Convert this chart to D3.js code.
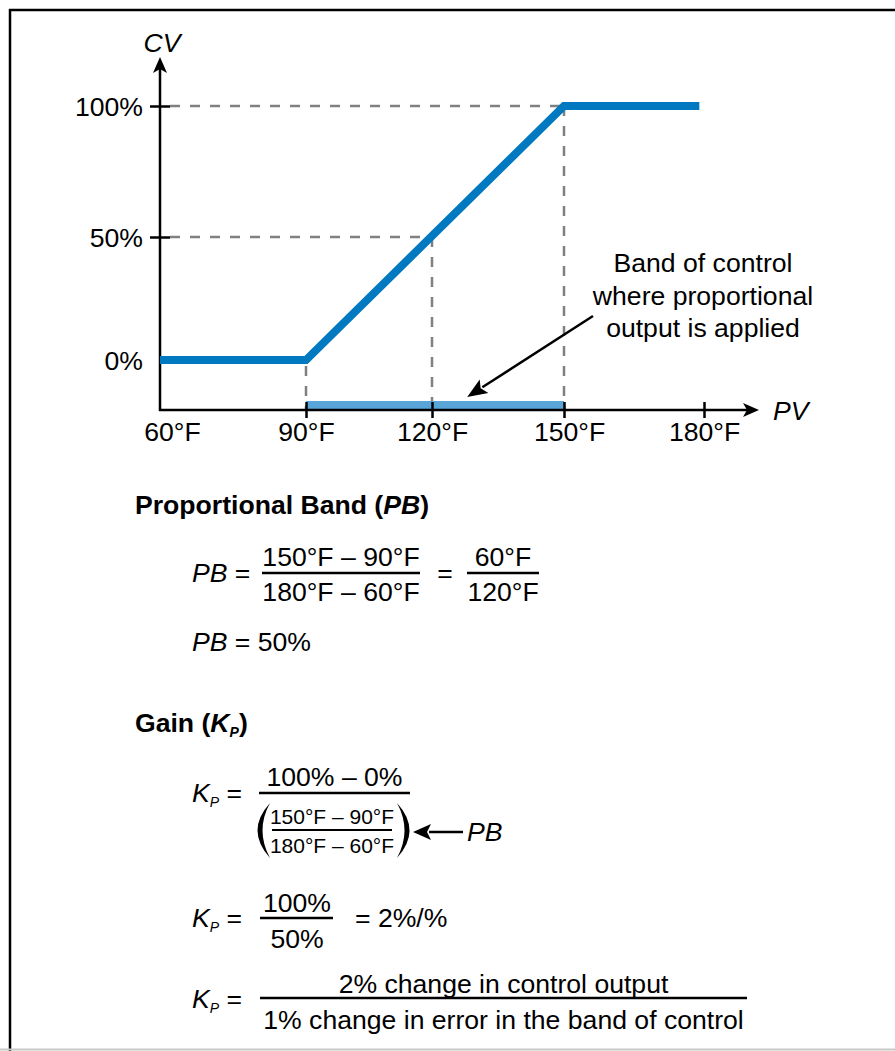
<!DOCTYPE html>
<html>
<head>
<meta charset="utf-8">
<script src="https://cdn.jsdelivr.net/npm/d3@7"></script>
<style>
  body { margin: 0; background: #fff; }
  svg { display: block; font-family: "Liberation Sans", Arial, sans-serif; }
</style>
</head>
<body>
<div id="chart"></div>
<script>
const width = 895, height = 1051;

// chart data
const pvTicks = [60, 90, 120, 150, 180];
const cvTicks = [0, 50, 100];
const curvePV = [60, 90, 150, 179];
const curveCV = [0, 0, 100, 100];
const bandOfControl = [90, 150];
const guidePV = [90, 120, 150];
const guideCV = [0, 50, 100];
const noteLines = ["Band of control", "where proportional", "output is applied"];
const notePV = 128; // where the note arrow points

// formula text
const pbFrac = ["150°F – 90°F", "180°F – 60°F"];
const pbFrac2 = ["60°F", "120°F"];
const kpFrac = ["100% – 0%"];
const kpFrac2 = ["100%", "50%"];
const kpFrac3 = ["2% change in control output", "1% change in error in the band of control"];

const blue = "#0079c1", lightBlue = "#5aa5d8", grey = "#808080";
const fs = 26.6;

const svg = d3
  .select("#chart")
  .append("svg")
  .attr("width", width)
  .attr("height", height);

// frame
svg.append("line").attr("x1", 10).attr("x2", 10).attr("y1", 9).attr("y2", height)
  .attr("stroke", "#000").attr("stroke-width", 2.5);
svg.append("line").attr("x1", 9).attr("x2", width).attr("y1", 10).attr("y2", 10)
  .attr("stroke", "#000").attr("stroke-width", 2.5);
svg.append("line").attr("x1", 0).attr("x2", width).attr("y1", height - 1.5).attr("y2", height - 1.5)
  .attr("stroke", "#c8c8c8").attr("stroke-width", 2);

// scales (drawing isn't evenly spaced, so use piecewise ranges)
let x = d3.scaleLinear().domain(pvTicks).range([160, 306, 432, 564, 704]);
let y = d3.scaleLinear().domain(cvTicks).range([360, 237, 106]);
const axisY = 410;

// dashed guides
const guides = svg.append("g")
  .attr("stroke", grey)
  .attr("stroke-width", 2.5)
  .attr("stroke-dasharray", "10,10")
  .attr("fill", "none");
guidePV.forEach((pv, i) => {
  const cv = guideCV[i];
  if (cv > 0) {
    guides.append("line")
      .attr("x1", x(60) + 10).attr("x2", x(pv))
      .attr("y1", y(cv)).attr("y2", y(cv));
  }
  guides.append("line")
    .attr("x1", x(pv)).attr("x2", x(pv))
    .attr("y1", y(cv) + (cv == 0 ? 6 : 0)).attr("y2", axisY);
});

// band of control
svg.append("rect")
  .attr("x", x(bandOfControl[0]))
  .attr("width", x(bandOfControl[1]) - x(bandOfControl[0]))
  .attr("y", axisY - 9)
  .attr("height", 8)
  .attr("fill", lightBlue);

// X axis
const xAxis = svg.append("g")
  .attr("transform", `translate(0,${axisY})`)
  .call(d3.axisBottom(x).tickValues(pvTicks).tickFormat((d) => d + "°F").tickSizeOuter(0));
xAxis.select(".domain").remove();
xAxis.selectAll(".tick line")
  .attr("y1", -8).attr("y2", 8)
  .attr("stroke", "#000").attr("stroke-width", 2.5)
  .attr("display", (d) => (d === 60 ? "none" : null));
xAxis.selectAll(".tick text")
  .attr("y", 31).attr("dy", 0)
  .attr("dx", (d) => (d === 60 ? 12 : d === 150 ? 5 : 0))
  .attr("font-size", fs)
  .attr("font-family", null)
  .attr("fill", "#000");

// Y axis
const yAxis = svg.append("g")
  .attr("transform", `translate(${x(60)},0)`)
  .call(d3.axisLeft(y).tickValues(cvTicks).tickFormat((d) => d + "%").tickSizeOuter(0));
yAxis.select(".domain").remove();
yAxis.selectAll(".tick line")
  .attr("x1", -10).attr("x2", 10)
  .attr("stroke", "#000").attr("stroke-width", 2.5)
  .attr("display", (d) => (d === 0 ? "none" : null));
yAxis.selectAll(".tick text")
  .attr("x", -17).attr("dy", "0.35em")
  .attr("font-size", fs)
  .attr("font-family", null)
  .attr("fill", "#000");

// axis lines with arrows
svg.append("line")
  .attr("x1", x(60)).attr("x2", x(60)).attr("y1", axisY + 1).attr("y2", 66)
  .attr("stroke", "#000").attr("stroke-width", 2.5);
svg.append("path")
  .attr("d", `M${x(60)},57 L${x(60) + 7},73 L${x(60)},69 L${x(60) - 7},73 Z`)
  .attr("fill", "#000");
svg.append("line")
  .attr("x1", x(60) - 1).attr("x2", 750).attr("y1", axisY).attr("y2", axisY)
  .attr("stroke", "#000").attr("stroke-width", 2.5);
svg.append("path")
  .attr("d", `M759,${axisY} L743,${axisY - 7} L747,${axisY} L743,${axisY + 7} Z`)
  .attr("fill", "#000");

svg.append("text").text("CV")
  .attr("x", x(60) + 2).attr("y", 52)
  .attr("text-anchor", "middle")
  .attr("font-style", "italic").attr("font-size", fs);
svg.append("text").text("PV")
  .attr("x", 773).attr("y", axisY + 10)
  .attr("font-style", "italic").attr("font-size", fs);

// CV response
const curve = curvePV.map((pv, i) => ({ pv, cv: curveCV[i] }));
svg.append("path")
  .datum(curve)
  .attr("fill", "none")
  .attr("stroke", blue)
  .attr("stroke-width", 8)
  .attr("stroke-linejoin", "miter")
  .attr("d", d3.line().x((d) => x(d.pv)).y((d) => y(d.cv)));

// note + arrow
const note = svg.append("text")
  .attr("text-anchor", "middle")
  .attr("font-size", fs);
noteLines.forEach((t, i) => {
  note.append("tspan").attr("x", 703).attr("y", 272 + i * 32.5).text(t);
});

function arrow(x1, y1, x2, y2, len, half) {
  const dx = x2 - x1, dy = y2 - y1, L = Math.hypot(dx, dy);
  const ux = dx / L, uy = dy / L;
  const bx = x2 - ux * len, by = y2 - uy * len;
  svg.append("line")
    .attr("x1", x1).attr("y1", y1)
    .attr("x2", x2 - ux * (len - 2)).attr("y2", y2 - uy * (len - 2))
    .attr("stroke", "#000").attr("stroke-width", 2.5);
  svg.append("path")
    .attr("d", `M${x2},${y2} L${bx - uy * half},${by + ux * half} L${bx + ux * 4},${by + uy * 4} L${bx + uy * half},${by - ux * half} Z`)
    .attr("fill", "#000");
}
arrow(593, 316, x(notePV), axisY - 13, 20, 8);

// ---- formulas ----
function kp(sel) {
  sel.append("tspan").text("K").attr("font-style", "italic");
  sel.append("tspan").text("P").attr("font-style", "italic")
    .attr("font-size", 14).attr("dy", 5);
}

function frac(cx, lineY, x1, x2, num, den, size, gapUp, gapDown) {
  svg.append("text").text(num)
    .attr("x", cx).attr("y", lineY - gapUp)
    .attr("text-anchor", "middle").attr("font-size", size);
  svg.append("line")
    .attr("x1", x1).attr("x2", x2).attr("y1", lineY).attr("y2", lineY)
    .attr("stroke", "#000").attr("stroke-width", size > 22 ? 2.5 : 1.8);
  if (den) {
    svg.append("text").text(den)
      .attr("x", cx).attr("y", lineY + gapDown)
      .attr("text-anchor", "middle").attr("font-size", size);
  }
}

// Proportional Band
const h1 = svg.append("text").attr("x", 135).attr("y", 514)
  .attr("font-size", fs).attr("font-weight", "bold");
h1.append("tspan").text("Proportional Band (");
h1.append("tspan").text("PB").attr("font-style", "italic");
h1.append("tspan").text(")");

const pb1 = svg.append("text").attr("x", 192).attr("y", 582).attr("font-size", fs);
pb1.append("tspan").text("PB").attr("font-style", "italic");
pb1.append("tspan").text(" =");
frac(341, 573, 262, 420, pbFrac[0], pbFrac[1], fs, 7, 28);
svg.append("text").text("=").attr("x", 445).attr("y", 582)
  .attr("text-anchor", "middle").attr("font-size", fs);
frac(503, 573, 467, 539, pbFrac2[0], pbFrac2[1], fs, 7, 28);

const pb2 = svg.append("text").attr("x", 192).attr("y", 651).attr("font-size", fs);
pb2.append("tspan").text("PB").attr("font-style", "italic");
pb2.append("tspan").text(" = 50%");

// Gain
const h2 = svg.append("text").attr("x", 135).attr("y", 732)
  .attr("font-size", fs).attr("font-weight", "bold");
h2.append("tspan").text("Gain (");
h2.append("tspan").text("K").attr("font-style", "italic");
h2.append("tspan").text("P").attr("font-style", "italic").attr("font-size", 14).attr("dy", 5);
h2.append("tspan").text(")").attr("dy", -5);

function kpLabel(yb) {
  const t = svg.append("text").attr("x", 192).attr("y", yb).attr("font-size", fs);
  kp(t);
  t.append("tspan").text(" =").attr("dy", -5);
}

kpLabel(802);
frac(334.5, 793, 259, 410, kpFrac[0], null, fs, 7, 0);
frac(332, 830, 272, 392, pbFrac[0], pbFrac[1], 21, 6, 23);
svg.append("path")
  .attr("d", "M270,803 Q245,830.5 270,858 Q255,830.5 270,803 Z")
  .attr("fill", "#000");
svg.append("path")
  .attr("d", "M397,803 Q422,830.5 397,858 Q412,830.5 397,803 Z")
  .attr("fill", "#000");
arrow(463, 832, 413, 832, 18, 8);
svg.append("text").text("PB").attr("x", 467).attr("y", 841)
  .attr("font-style", "italic").attr("font-size", fs);

kpLabel(927);
frac(297, 918, 260, 333, kpFrac2[0], kpFrac2[1], fs, 6, 30);
svg.append("text").text("= 2%/%").attr("x", 355).attr("y", 927).attr("font-size", fs);

kpLabel(1008);
frac(503.5, 998, 260, 747, kpFrac3[0], kpFrac3[1], fs, 5, 31);
</script>
</body>
</html>
